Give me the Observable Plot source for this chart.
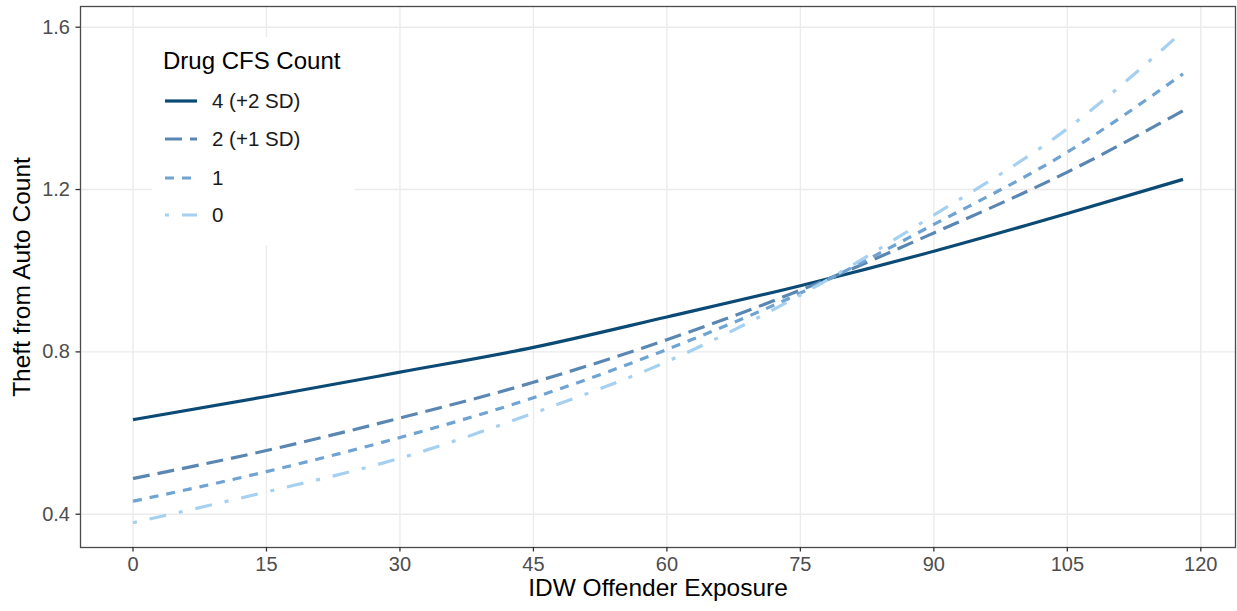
<!DOCTYPE html>
<html>
<head>
<meta charset="utf-8">
<script src="https://cdn.jsdelivr.net/npm/d3@7"></script>
<script src="https://cdn.jsdelivr.net/npm/@observablehq/plot@0.6"></script>
<style>
  html, body { margin: 0; padding: 0; background: #fff; }
  #chart svg { display: block; font-family: "Liberation Sans", Arial, Helvetica, sans-serif; }
</style>
</head>
<body>
<div id="chart"></div>
<script>
// Predicted theft-from-auto counts across offender exposure, by drug CFS count
const exposure = [0, 15, 30, 45, 60, 75, 90, 105, 118];
const drug4 = [0.633, 0.690, 0.750, 0.811, 0.886, 0.963, 1.048, 1.141, 1.225];
const drug2 = [0.488, 0.557, 0.637, 0.725, 0.830, 0.952, 1.093, 1.243, 1.394];
const drug1 = [0.432, 0.505, 0.589, 0.687, 0.806, 0.945, 1.114, 1.292, 1.485];
const drug0 = [0.379, 0.455, 0.538, 0.649, 0.776, 0.940, 1.137, 1.350, 1.590];

const seriesLabels = ["4 (+2 SD)", "2 (+1 SD)", "1", "0"];
const seriesValues = [drug4, drug2, drug1, drug0];
const seriesColors = ["#0b4a74", "#5a86b2", "#6fa3d2", "#a6d0ef"];
const seriesDashes = [null, "17 8", "9 8", "4 13 17 13"];

const xTicks = [0, 15, 30, 45, 60, 75, 90, 105, 120];
const yTicks = [0.4, 0.8, 1.2, 1.6];

const legendTitle = "Drug CFS Count";
const xTitle = "IDW Offender Exposure";
const yTitle = "Theft from Auto Count";

// long-format rows, one per point
const rows = seriesValues.flatMap((vals, i) =>
  vals.map((v, j) => ({ x: exposure[j], y: v, series: seriesLabels[i] }))
);

const font = '"Liberation Sans", Arial, Helvetica, sans-serif';
const lineWidth = 3.2;

const lineMarks = seriesLabels.map((label, i) =>
  Plot.line(rows.filter(d => d.series === label), {
    x: "x", y: "y",
    stroke: seriesColors[i],
    strokeWidth: lineWidth,
    strokeDasharray: seriesDashes[i] ?? undefined,
    strokeLinecap: "butt",
    curve: "monotone-x"
  })
);

const chart = Plot.plot({
  width: 1237,
  height: 611,
  marginLeft: 80,
  marginRight: 2,
  marginTop: 6,
  marginBottom: 64,
  style: { fontFamily: font, background: "#fff", overflow: "visible" },
  x: { domain: [-5.9, 123.9] },
  y: { domain: [0.318, 1.651] },
  marks: [
    Plot.gridX(xTicks, { stroke: "#ebebeb", strokeOpacity: 1, strokeWidth: 1.4 }),
    Plot.gridY(yTicks, { stroke: "#ebebeb", strokeOpacity: 1, strokeWidth: 1.4 }),
    ...lineMarks,
    Plot.frame({ stroke: "#4a4a4a", strokeWidth: 1.3 }),
    Plot.axisX(xTicks, {
      tickSize: 4.5, tickPadding: 5, fontSize: 20,
      fill: "#4d4d4d", stroke: "#333", strokeWidth: 1.3, label: null
    }),
    Plot.axisY(yTicks, {
      tickSize: 4.5, tickPadding: 6, fontSize: 20,
      fill: "#4d4d4d", stroke: "#333", strokeWidth: 1.3, label: null,
      tickFormat: d => d.toFixed(1)
    }),
    Plot.text([xTitle], { frameAnchor: "bottom", dy: 48, fontSize: 24.5, fill: "#000", textAnchor: "middle", text: d => d }),
    Plot.text([yTitle], { frameAnchor: "left", dx: -58, rotate: -90, fontSize: 24.5, fill: "#000", textAnchor: "middle", text: d => d })
  ]
});

// Legend drawn inside the panel, top-left
const svg = d3.select(chart);
const legend = svg.append("g")
  .attr("font-family", font)
  .attr("text-anchor", "start");
legend.append("rect")
  .attr("x", 152).attr("y", 37).attr("width", 203).attr("height", 208)
  .attr("fill", "#fff");
legend.append("text")
  .attr("x", 163).attr("y", 69)
  .attr("font-size", 24).attr("fill", "#000")
  .text(legendTitle);
const keyY = [101, 139, 178, 215];
seriesLabels.forEach((label, i) => {
  const line = legend.append("line")
    .attr("x1", 165).attr("x2", 197)
    .attr("y1", keyY[i]).attr("y2", keyY[i])
    .attr("stroke", seriesColors[i])
    .attr("stroke-width", lineWidth)
    .attr("stroke-linecap", "butt");
  if (seriesDashes[i]) line.attr("stroke-dasharray", seriesDashes[i]);
  legend.append("text")
    .attr("x", 212).attr("y", keyY[i])
    .attr("dy", "0.36em")
    .attr("font-size", 20.5).attr("fill", "#1a1a1a")
    .text(label);
});

document.getElementById("chart").appendChild(chart);
</script>
</body>
</html>
